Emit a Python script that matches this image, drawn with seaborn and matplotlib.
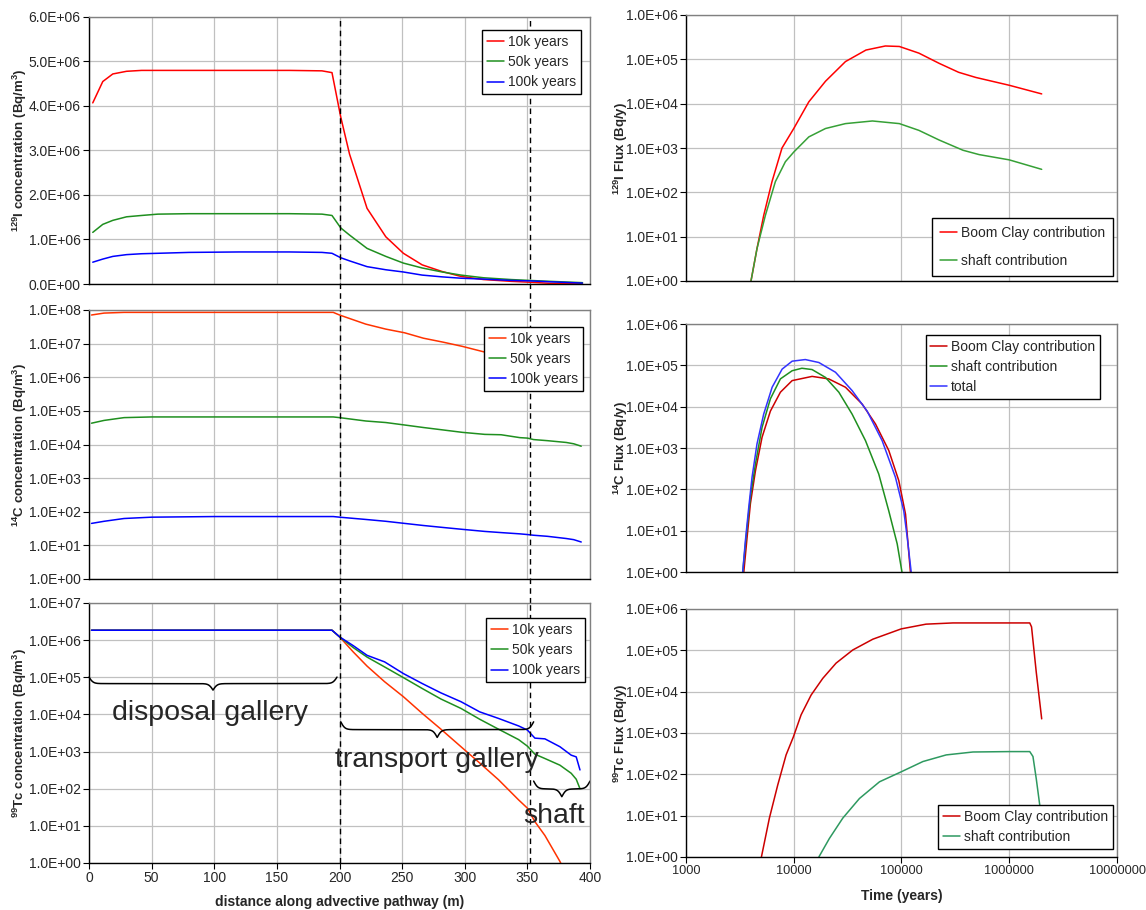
import numpy as np
import pandas as pd
import matplotlib
matplotlib.use("Agg")
import matplotlib.pyplot as plt
from matplotlib.ticker import FuncFormatter, LogLocator, NullLocator, MultipleLocator
import seaborn as sns

# ---------------- concentration profiles along the pathway (left column)
i129_dist = [3, 11, 19, 30, 42, 55, 80, 120, 160, 186, 194, 201, 208, 222, 237, 251,
             266, 282, 297, 315, 337, 352, 368, 394]
i129_10k = [4.07e6, 4.55e6, 4.72e6, 4.78e6, 4.80e6, 4.80e6, 4.80e6, 4.80e6, 4.80e6, 4.79e6,
            4.75e6, 3.75e6, 2.92e6, 1.70e6, 1.06e6, 0.69e6, 0.43e6, 0.28e6, 0.17e6, 0.10e6,
            0.06e6, 0.04e6, 0.015e6, 0.0]
i129_50k = [1.16e6, 1.34e6, 1.43e6, 1.51e6, 1.54e6, 1.57e6, 1.58e6, 1.58e6, 1.58e6, 1.57e6,
            1.54e6, 1.26e6, 1.10e6, 0.80e6, 0.62e6, 0.47e6, 0.36e6, 0.27e6, 0.20e6, 0.14e6,
            0.10e6, 0.08e6, 0.06e6, 0.03e6]
i129_100k = [0.49e6, 0.56e6, 0.62e6, 0.66e6, 0.68e6, 0.69e6, 0.71e6, 0.72e6, 0.72e6, 0.71e6,
             0.69e6, 0.59e6, 0.52e6, 0.39e6, 0.32e6, 0.27e6, 0.20e6, 0.16e6, 0.13e6, 0.11e6,
             0.08e6, 0.07e6, 0.05e6, 0.02e6]

c14_dist = [2, 12, 28, 50, 100, 150, 195, 200, 221, 237, 252, 267, 283, 298, 316, 329,
            344, 350, 355, 366, 381, 387, 393]
c14_10k = [7.1e7, 8.1e7, 8.5e7, 8.5e7, 8.5e7, 8.5e7, 8.5e7, 7.1e7, 3.8e7, 2.7e7, 2.1e7,
           1.45e7, 1.1e7, 8.3e6, 5.6e6, 4.6e6, 3.5e6, 3.2e6, 2.8e6, 2.4e6, 1.9e6, 1.7e6, 1.4e6]
c14_50k = [4.3e4, 5.2e4, 6.3e4, 6.6e4, 6.6e4, 6.6e4, 6.6e4, 6.3e4, 5.0e4, 4.5e4, 3.8e4,
           3.2e4, 2.7e4, 2.3e4, 2.0e4, 1.95e4, 1.6e4, 1.55e4, 1.4e4, 1.3e4, 1.15e4, 1.05e4, 8.9e3]
c14_100k = [45, 52, 63, 69, 72, 72, 72, 69, 59, 52, 45, 39, 34, 30, 26, 24, 22, 21, 20,
            18.6, 16, 14.8, 12.6]

tc_dist = [2, 50, 100, 150, 194, 200, 211, 222, 236, 251, 266, 281, 297, 312, 327, 343,
           350, 356, 364, 376, 385, 389, 392]
tc_10k = [1.85e6, 1.85e6, 1.85e6, 1.85e6, 1.85e6, 1.23e6, 4.8e5, 2.0e5, 7.6e4, 3.0e4, 1.07e4,
          4.0e3, 1.35e3, 490, 174, 50, 30, 13, 5.5, 1.1, 0.25, 0.12, 0.07]
tc_50k = [1.85e6, 1.85e6, 1.85e6, 1.85e6, 1.85e6, 1.23e6, 6.3e5, 3.5e5, 1.9e5, 9.8e4, 5.0e4,
          2.6e4, 1.45e4, 7.4e3, 4.0e3, 2.1e3, 1.4e3, 850, 650, 430, 260, 180, 100]
tc_100k = [1.85e6, 1.85e6, 1.85e6, 1.85e6, 1.85e6, 1.23e6, 7.1e5, 3.9e5, 2.6e5, 1.26e5, 6.8e4,
           3.8e4, 2.2e4, 1.17e4, 7.8e3, 4.9e3, 3.8e3, 2.3e3, 2.2e3, 1.35e3, 800, 720, 320]

# ---------------- fluxes versus time (right column)
i_bc_t = [4010, 4560, 5260, 6280, 7780, 10000, 13800, 19700, 30200, 46800, 70800, 95500,
          145000, 224000, 339000, 490000, 1000000, 2000000]
i_bc = [1, 5.4, 30, 174, 1000, 2750, 1.1e4, 3.2e4, 8.9e4, 1.62e5, 2.0e5, 1.95e5, 1.38e5,
        8.1e4, 5.1e4, 3.9e4, 2.6e4, 1.66e4]
i_sh_t = [4010, 4560, 5450, 6750, 8360, 10000, 13800, 19700, 30200, 53700, 95500, 145000,
          224000, 372000, 525000, 1000000, 2000000]
i_sh = [1, 5.4, 30, 174, 490, 810, 1780, 2750, 3550, 4070, 3550, 2500, 1510, 890, 710,
        540, 330]

c_bc_t = [3440, 3690, 3960, 4410, 5080, 6070, 7520, 9660, 14800, 21100, 30200, 43200,
          57400, 76200, 94400, 109000, 121000]
c_bc = [1, 6.9, 45, 280, 1820, 7800, 2.24e4, 4.27e4, 5.4e4, 4.7e4, 2.95e4, 1.15e4, 3800,
        870, 162, 25, 1]
c_sh_t = [3360, 3610, 3960, 4410, 5080, 6070, 7520, 9660, 11900, 14800, 19700, 26200,
          34800, 46300, 61500, 76200, 91200, 101000]
c_sh = [1, 6.9, 65, 410, 3160, 1.55e4, 4.7e4, 7.4e4, 8.5e4, 7.9e4, 5.1e4, 2.24e4, 6600,
        1510, 234, 30, 4.8, 1]
c_tot_t = [3360, 3560, 3820, 4100, 4560, 5260, 6300, 7800, 9660, 12800, 17100, 24400,
           34800, 48000, 66100, 87900, 105000, 113000, 123000]
c_tot = [1, 5.8, 36, 195, 1260, 6600, 2.95e4, 8.1e4, 1.26e5, 1.38e5, 1.17e5, 6.8e4,
         2.45e4, 7800, 1510, 195, 30, 6.9, 1]

t_bc_t = [5010, 5940, 7100, 8490, 9930, 11700, 14500, 18600, 24700, 35300, 54200, 99300,
          169000, 300000, 993000, 1550000, 1610000, 1780000, 2000000]
t_bc = [1, 8.7, 55, 295, 810, 2750, 8300, 2.1e4, 4.9e4, 1.02e5, 1.86e5, 3.3e5, 4.3e5,
        4.6e5, 4.6e5, 4.6e5, 3.7e5, 3.0e4, 2200]
t_sh_t = [17100, 21400, 28500, 40700, 62500, 99300, 158000, 260000, 460000, 993000,
          1550000, 1660000, 1780000, 1940000]
t_sh = [1, 2.8, 8.7, 26, 66, 115, 204, 295, 347, 355, 355, 270, 79, 14.5]

ages = ["10k years", "50k years", "100k years"]
parts = ["Boom Clay contribution", "shaft contribution", "total"]

sns.set_style("white")
plt.rcParams["font.family"] = ["Liberation Sans", "DejaVu Sans"]
plt.rcParams["mathtext.fontset"] = "custom"
plt.rcParams["mathtext.rm"] = "Liberation Sans"
plt.rcParams["mathtext.bf"] = "Liberation Sans:bold"
plt.rcParams["mathtext.it"] = "Liberation Sans:italic"


def long_frame(curves):
    rows = [pd.DataFrame({"x": x, "y": y, "series": name}) for name, (x, y) in curves.items()]
    return pd.concat(rows, ignore_index=True)


def draw(ax, curves, colors):
    df = long_frame(curves)
    names = list(curves.keys())
    sns.lineplot(data=df, x="x", y="y", hue="series", hue_order=names,
                 palette=dict(zip(names, colors)), estimator=None, sort=False,
                 linewidth=1.1, ax=ax)


def frame(ax):
    ax.grid(True, color="#c0c0c0", lw=0.9)
    ax.set_axisbelow(True)
    for s in ["top", "right"]:
        ax.spines[s].set_color("#808080")
    for s in ["left", "bottom"]:
        ax.spines[s].set_color("black")
    for s in ax.spines.values():
        s.set_linewidth(1.0)
    ax.tick_params(axis="both", direction="out", length=4, width=0.8, labelsize=10,
                   color="black", pad=2, left=True, bottom=True)
    ax.set_xlabel("")


def put_legend(ax, loc, anchor, spacing=0.45, pad=0.35):
    h, l = ax.get_legend_handles_labels()
    lg = ax.legend(h, l, loc=loc, bbox_to_anchor=anchor, fontsize=10, frameon=True,
                   fancybox=False, framealpha=1, edgecolor="black", handlelength=1.2,
                   handletextpad=0.3, labelspacing=spacing, borderpad=pad, borderaxespad=0)
    lg.get_frame().set_linewidth(1.0)


def brace(ax, x0, x1, y_top, depth, sharp=0.6):
    xs = np.linspace(x0, x1, 401)
    mid = xs[200]
    left = xs[:201]
    half = 1 / (1 + np.exp(-sharp * (left - x0))) + 1 / (1 + np.exp(-sharp * (left - mid)))
    shape = np.concatenate([half, half[-2::-1]])
    ax.plot(xs, y_top - depth * (shape - 0.5), transform=ax.get_xaxis_transform(),
            color="black", lw=1.1, clip_on=False)


sci = FuncFormatter(lambda v, p: f"{v:.1E}")

fig = plt.figure(figsize=(11.46, 9.10), dpi=100)


def box(left, right, top, bottom):
    return [left / 1146, 1 - bottom / 910, (right - left) / 1146, (bottom - top) / 910]


ax_i = fig.add_axes(box(89, 590, 17, 284))
ax_c = fig.add_axes(box(89, 590, 310, 579))
ax_t = fig.add_axes(box(89, 590, 603, 863))
fx_i = fig.add_axes(box(686, 1117, 15, 281))
fx_c = fig.add_axes(box(686, 1117, 324, 572))
fx_t = fig.add_axes(box(686, 1117, 609, 857))

# ---- left column
draw(ax_i, {ages[0]: (i129_dist, i129_10k), ages[1]: (i129_dist, i129_50k),
            ages[2]: (i129_dist, i129_100k)}, ["#ff0000", "#1f8f1f", "#0000ff"])
draw(ax_c, {ages[0]: (c14_dist, c14_10k), ages[1]: (c14_dist, c14_50k),
            ages[2]: (c14_dist, c14_100k)}, ["#ff3300", "#1f8f1f", "#0000ff"])
draw(ax_t, {ages[0]: (tc_dist, tc_10k), ages[1]: (tc_dist, tc_50k),
            ages[2]: (tc_dist, tc_100k)}, ["#ff3300", "#1f8f1f", "#0000ff"])

ax_i.set_ylim(0, 6e6)
ax_i.yaxis.set_major_locator(MultipleLocator(1e6))
ax_c.set_yscale("log")
ax_c.set_ylim(1, 1e8)
ax_t.set_yscale("log")
ax_t.set_ylim(1, 1e7)

for ax in (ax_i, ax_c, ax_t):
    frame(ax)
    ax.set_xlim(0, 400)
    ax.xaxis.set_major_locator(MultipleLocator(50))
    if ax is not ax_i:
        ax.yaxis.set_major_locator(LogLocator(base=10, numticks=20))
        ax.yaxis.set_minor_locator(NullLocator())
    ax.yaxis.set_major_formatter(sci)
    ax.yaxis.set_label_coords(-0.12, 0.5)
    ext = 0 if ax is ax_t else -0.09
    for xd in (200, 352):
        ax.axvline(xd, ymin=ext, ymax=1, color="black", lw=1.0, ls=(0, (4, 3)),
                   clip_on=False, zorder=3)

for ax in (ax_i, ax_c):
    ax.tick_params(axis="x", length=0, labelbottom=False)

ax_i.set_ylabel(r"$^{\mathbf{129}}$I concentration (Bq/m$^{\mathbf{3}}$)",
                fontsize=9.5, fontweight="bold")
ax_c.set_ylabel(r"$^{\mathbf{14}}$C concentration (Bq/m$^{\mathbf{3}}$)",
                fontsize=9.5, fontweight="bold")
ax_t.set_ylabel(r"$^{\mathbf{99}}$Tc concentration (Bq/m$^{\mathbf{3}}$)",
                fontsize=9.5, fontweight="bold")
ax_t.set_xlabel("distance along advective pathway (m)", fontsize=10, fontweight="bold")
ax_t.xaxis.set_label_coords(0.5, -0.123)

put_legend(ax_i, "upper right", (0.982, 0.951))
put_legend(ax_c, "upper right", (0.986, 0.937))
put_legend(ax_t, "upper right", (0.990, 0.942))

# pathway sections
brace(ax_t, 0, 198, 0.715, 0.05)
brace(ax_t, 201, 355, 0.543, 0.06)
brace(ax_t, 355, 400, 0.315, 0.06)
tx = ax_t.get_xaxis_transform()
ax_t.text(97, 0.55, "disposal gallery", transform=tx, ha="center", va="baseline",
          fontsize=20.5, zorder=6)
ax_t.text(278, 0.37, "transport gallery", transform=tx, ha="center", va="baseline",
          fontsize=20.5, zorder=6)
ax_t.text(371, 0.154, "shaft", transform=tx, ha="center", va="baseline",
          fontsize=20.5, zorder=6)

# ---- right column
draw(fx_i, {parts[0]: (i_bc_t, i_bc), parts[1]: (i_sh_t, i_sh)}, ["#ff0000", "#36a036"])
draw(fx_c, {parts[0]: (c_bc_t, c_bc), parts[1]: (c_sh_t, c_sh), parts[2]: (c_tot_t, c_tot)},
     ["#cc0000", "#1f8f1f", "#3333ff"])
draw(fx_t, {parts[0]: (t_bc_t, t_bc), parts[1]: (t_sh_t, t_sh)}, ["#cc0000", "#2e9960"])

for ax in (fx_i, fx_c, fx_t):
    frame(ax)
    ax.set_xscale("log")
    ax.set_yscale("log")
    ax.set_xlim(1000, 1e7)
    ax.set_ylim(1, 1e6)
    ax.xaxis.set_major_locator(LogLocator(base=10, numticks=20))
    ax.xaxis.set_minor_locator(NullLocator())
    ax.yaxis.set_major_locator(LogLocator(base=10, numticks=20))
    ax.yaxis.set_minor_locator(NullLocator())
    ax.yaxis.set_major_formatter(sci)
    ax.xaxis.set_major_formatter(FuncFormatter(lambda v, p: f"{int(round(v))}"))
    ax.yaxis.set_label_coords(-0.131, 0.5)

for ax in (fx_i, fx_c):
    ax.tick_params(axis="x", length=0, labelbottom=False)
fx_t.tick_params(axis="x", labelsize=9.2)

fx_i.set_ylabel(r"$^{\mathbf{129}}$I Flux (Bq/y)", fontsize=9.5, fontweight="bold")
fx_c.set_ylabel(r"$^{\mathbf{14}}$C Flux (Bq/y)", fontsize=9.5, fontweight="bold")
fx_t.set_ylabel(r"$^{\mathbf{99}}$Tc Flux (Bq/y)", fontsize=9.5, fontweight="bold")
fx_t.set_xlabel("Time (years)", fontsize=10, fontweight="bold")
fx_t.xaxis.set_label_coords(0.5, -0.129)

put_legend(fx_i, "upper right", (0.990, 0.237), spacing=1.05, pad=0.55)
put_legend(fx_c, "upper right", (0.961, 0.956))
put_legend(fx_t, "lower right", (0.991, 0.032))

fig.savefig("out.png", dpi=100)
